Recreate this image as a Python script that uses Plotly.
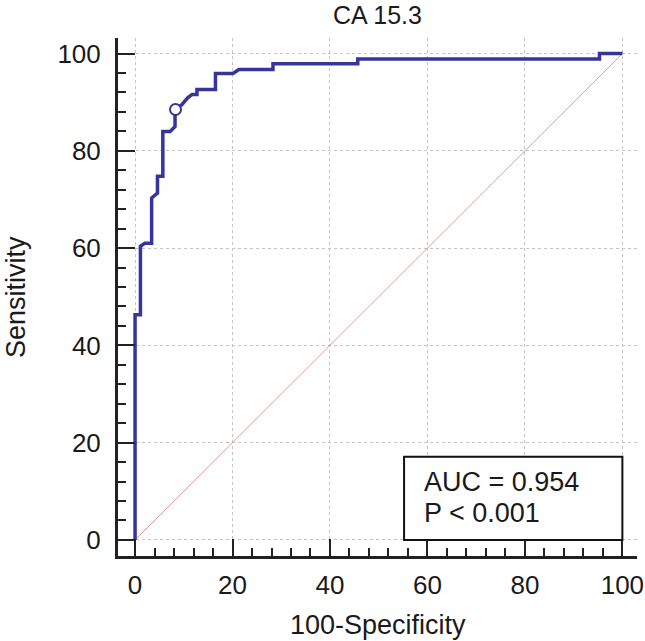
import plotly.graph_objects as go

# ROC curve data (100-Specificity, Sensitivity)
fpr = [0, 0, 1.1, 1.1, 2.0, 3.4, 3.4, 4.6, 4.6, 5.7, 5.7, 7.2, 8.2, 8.2, 9.6, 10.8, 11.7,
       12.7, 12.7, 16.5, 16.5, 20.1, 21.3, 28.3, 28.3, 45.7, 45.7, 95.3, 95.3, 100]
tpr = [0, 46.3, 46.3, 60.4, 61.0, 61.0, 70.3, 71.3, 74.8, 74.8, 84.0, 84.0, 85.0, 88.5, 89.5, 90.9, 91.6,
       91.6, 92.6, 92.6, 95.9, 95.9, 96.7, 96.7, 97.9, 97.9, 98.9, 98.9, 100, 100]
ref_x = [0, 100]
ref_y = [0, 100]
cut_x = [8.3]
cut_y = [88.5]
tick_vals = [0, 20, 40, 60, 80, 100]
title_text = "CA 15.3"
x_title = "100-Specificity"
y_title = "Sensitivity"
auc_lines = ["AUC = 0.954", "P < 0.001"]

FONT = "Liberation Sans, Arial, sans-serif"
TXT = "#1a1a1a"
BLUE = "#35359d"

fig = go.Figure()
fig.add_trace(go.Scatter(x=ref_x, y=ref_y, mode="lines",
                         line=dict(color="#d99c9c", width=1), hoverinfo="skip"))
fig.add_trace(go.Scatter(x=fpr, y=tpr, mode="lines",
                         line=dict(color=BLUE, width=3.5), hoverinfo="skip"))
fig.add_trace(go.Scatter(x=cut_x, y=cut_y, mode="markers",
                         marker=dict(size=11, color="white", line=dict(color=BLUE, width=2)),
                         hoverinfo="skip"))

axis_common = dict(
    tickvals=tick_vals,
    ticks="inside", ticklen=17, tickwidth=2, tickcolor="#222",
    showline=True, linecolor="#222", linewidth=3,
    showgrid=True, gridcolor="#c4c4c4", gridwidth=1, griddash="dot",
    zeroline=False, automargin=False,
    tickfont=dict(family=FONT, size=26, color=TXT),
    ticklabeloverflow="allow",
    minor=dict(dtick=4, tick0=0, ticks="inside", ticklen=8, tickwidth=1.5,
               tickcolor="#222", showgrid=False),
)

fig.update_layout(
    width=645, height=641,
    margin=dict(l=118, r=8, t=38, b=85),
    paper_bgcolor="white", plot_bgcolor="white",
    showlegend=False,
    font=dict(family=FONT, color=TXT),
    xaxis=dict(range=[-3.5, 103], ticklabelstandoff=4, **axis_common),
    yaxis=dict(range=[-3.3, 103.2], ticklabelstandoff=9, **axis_common),
)

fig.add_shape(type="rect", xref="x", yref="y", x0=55.2, x1=100, y0=0, y1=17.1,
              line=dict(color="#111", width=2), fillcolor="white", layer="above")
fig.add_annotation(xref="x", yref="y", x=58.9, y=12.0, text=auc_lines[0], showarrow=False,
                   xanchor="left", yanchor="middle", font=dict(family=FONT, size=27, color=TXT))
fig.add_annotation(xref="x", yref="y", x=58.9, y=5.5, text=auc_lines[1], showarrow=False,
                   xanchor="left", yanchor="middle", font=dict(family=FONT, size=27, color=TXT))
fig.add_annotation(xref="paper", yref="paper", x=0.5, y=1, yshift=23, text=title_text,
                   showarrow=False, xanchor="center", yanchor="middle",
                   font=dict(family=FONT, size=25, color=TXT))
fig.add_annotation(xref="paper", yref="paper", x=0.5, y=0, yshift=-69, text=x_title,
                   showarrow=False, xanchor="center", yanchor="middle",
                   font=dict(family=FONT, size=27, color=TXT))
fig.add_annotation(xref="paper", yref="paper", x=0, y=0.5, xshift=-102, text=y_title,
                   showarrow=False, xanchor="center", yanchor="middle", textangle=-90,
                   font=dict(family=FONT, size=27, color=TXT))

fig.write_html("out.html", config={"displayModeBar": False},
               post_script="document.body.style.margin='0';")
